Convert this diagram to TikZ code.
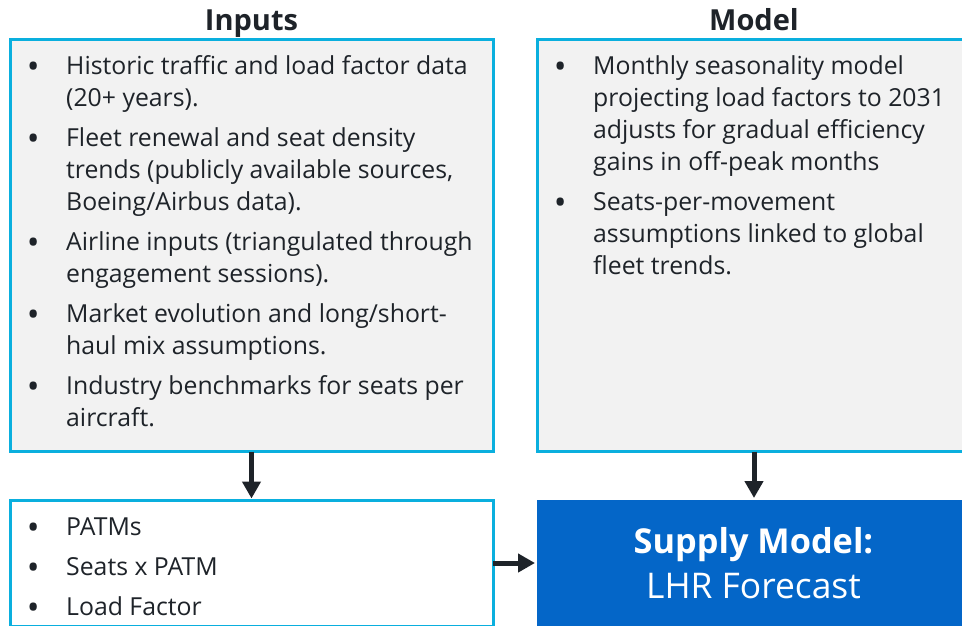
\documentclass[tikz,border=0pt]{standalone}
\usepackage{fontspec}
\setmainfont{Open Sans}
\usetikzlibrary{arrows.meta}

\definecolor{frame}{HTML}{0AAFDE}
\definecolor{panelfill}{HTML}{F2F2F2}
\definecolor{ink}{HTML}{1E2329}
\definecolor{supply}{HTML}{0466C8}

% bullet column: dot centred in the first 32pt, text starts 49pt in
\newcommand\bul{\makebox[49pt][l]{\makebox[32pt][c]{\raisebox{-4pt}{\fontsize{34}{32}\selectfont\textbullet}}}}

\begin{document}
\begin{tikzpicture}[x=1pt,y=-1pt,
  panel/.style={draw=frame, line width=3pt, fill=panelfill, outer sep=0pt, inner sep=0pt, anchor=north west},
  outpanel/.style={draw=frame, line width=3pt, fill=white, outer sep=0pt, inner sep=0pt, anchor=north west},
  supplybox/.style={fill=supply, outer sep=0pt, inner sep=0pt, anchor=north west},
  supplytext/.style={text=white, anchor=base, inner sep=0pt},
  heading/.style={font=\fontsize{29}{36}\selectfont\bfseries, text=ink, anchor=base, inner sep=0pt},
  bodytext/.style={font=\fontsize{24.8}{32}\selectfont, text=ink, anchor=base west, inner sep=0pt, align=left},
  flow/.style={line width=5pt, draw=ink, -{Triangle[length=17pt,width=18pt]}, shorten >=1.5pt}
]
\useasboundingbox (0,0) rectangle (962,625);

% column headings
\node[heading] (inhead) at (251.5,30) {Inputs};
\node[heading] (modelhead) at (754,30) {Model};

% panels
\node[panel, minimum width=483pt, minimum height=412pt] (inbox) at (10,39.5) {};
\node[panel, minimum width=433pt, minimum height=412pt] (modelbox) at (537.5,39.5) {};
\node[outpanel, minimum width=483pt, minimum height=126pt] (outbox) at (10,500) {};
\node[supplybox, minimum width=434pt, minimum height=127pt] (supply) at (536.5,499.5) {};

% result box caption
\node[supplytext, font=\fontsize{34.3}{40}\selectfont\bfseries] (supplytitle) at (753.5,553) {Supply Model:};
\node[supplytext, font=\fontsize{35.4}{40}\selectfont] (supplysub) at (753.5,598) {LHR Forecast};

% panel contents
\node[bodytext] (intext) at (17,74) {%
\begin{tabular}[t]{@{}l@{}l@{}}
\bul & Historic traffic and load factor data\\
     & (20+ years).\\[8pt]
\bul & Fleet renewal and seat density\\
     & trends (publicly available sources,\\
     & Boeing/Airbus data).\\[8pt]
\bul & Airline inputs (triangulated through\\
     & engagement sessions).\\[8pt]
\bul & Market evolution and long/short-\\
     & haul mix assumptions.\\[8pt]
\bul & Industry benchmarks for seats per\\
     & aircraft.
\end{tabular}};

\node[bodytext] (modeltext) at (544,74) {%
\begin{tabular}[t]{@{}l@{}l@{}}
\bul & Monthly seasonality model\\
     & projecting load factors to 2031\\
     & adjusts for gradual efficiency\\
     & gains in off-peak months\\[8pt]
\bul & Seats-per-movement\\
     & assumptions linked to global\\
     & fleet trends.
\end{tabular}};

\node[bodytext] (outtext) at (17,535) {%
\begin{tabular}[t]{@{}l@{}l@{}}
\bul & PATMs\\[8pt]
\bul & Seats x PATM\\[8pt]
\bul & Load Factor
\end{tabular}};

% connectors
\draw[flow] (inbox.south) -- (outbox.north);
\draw[flow] (modelbox.south) -- (modelbox.south |- supply.north);
\draw[flow] (outbox.east) -- (supply.west);
\end{tikzpicture}
\end{document}
